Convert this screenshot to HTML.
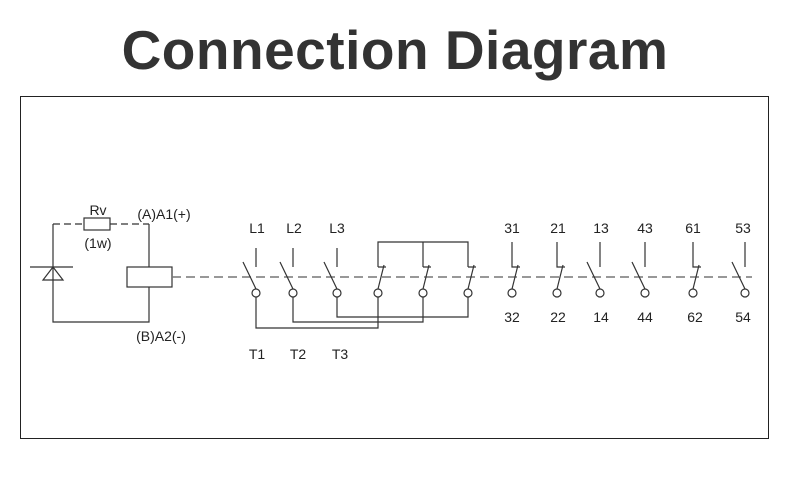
<!DOCTYPE html>
<html><head><style>
body{margin:0;background:#fff;width:790px;height:480px;overflow:hidden}
h1{position:absolute;left:0;top:0;width:790px;margin:0;text-align:center;font:bold 55px "Liberation Sans",sans-serif;color:#333;line-height:100px;letter-spacing:0.5px}
svg{position:absolute;left:0;top:0}
text{font-family:"Liberation Sans",sans-serif;font-size:14px;fill:#222}
</style></head><body>
<h1>Connection Diagram</h1>
<svg width="790" height="480" viewBox="0 0 790 480">
<rect x="20.5" y="96.5" width="748" height="342" fill="none" stroke="#222" stroke-width="1"/>
<g stroke="#333" stroke-width="1.2" fill="none">
<path d="M53 224 V322 H149 V224" />
<path d="M53 224 H84 M110 224 H149" stroke-dasharray="7,4"/>
<rect x="84" y="218" width="26" height="12" fill="#fff"/>
<path d="M30 267 H73 M53 267 L43 280 H63 Z"/>
<rect x="127" y="267" width="45" height="20" fill="#fff"/>
<path d="M172 277 H752" stroke="#777" stroke-width="1.6" stroke-dasharray="9,5"/>
<path d="M256 248V267 M293 248V267 M337 248V267"/>
<path d="M243 262L256 289 M280 262L293 289 M324 262L337 289"/>
<path d="M378 267V242H468V267 M423 242V267"/>
<path d="M378 267H386 M423 267H431 M468 267H476"/>
<path d="M378 289L384 265 M423 289L429 265 M468 289L474 265"/>
<path d="M256 297V328H378V297 M293 297V322H423V297 M337 297V317H468V297"/>
<path d="M512 242V267H520 M512 289L518 265"/>
<path d="M557 242V267H565 M557 289L563 265"/>
<path d="M693 242V267H701 M693 289L699 265"/>
<path d="M600 242V267 M587 262L600 289"/>
<path d="M645 242V267 M632 262L645 289"/>
<path d="M745 242V267 M732 262L745 289"/>
<g fill="#fff">
<circle cx="256" cy="293" r="4"/><circle cx="293" cy="293" r="4"/><circle cx="337" cy="293" r="4"/>
<circle cx="378" cy="293" r="4"/><circle cx="423" cy="293" r="4"/><circle cx="468" cy="293" r="4"/>
<circle cx="512" cy="293" r="4"/><circle cx="557" cy="293" r="4"/><circle cx="600" cy="293" r="4"/>
<circle cx="645" cy="293" r="4"/><circle cx="693" cy="293" r="4"/><circle cx="745" cy="293" r="4"/>
</g>
</g>
<g text-anchor="middle">
<text x="98" y="215" font-size="12">Rv</text>
<text x="98" y="248" font-size="12">(1w)</text>
<text x="164" y="219" font-size="13">(A)A1(+)</text>
<text x="161" y="341" font-size="13">(B)A2(-)</text>
<text x="257" y="233">L1</text><text x="294" y="233">L2</text><text x="337" y="233">L3</text>
<text x="257" y="359">T1</text><text x="298" y="359">T2</text><text x="340" y="359">T3</text>
<text x="512" y="233">31</text><text x="558" y="233">21</text><text x="601" y="233">13</text>
<text x="645" y="233">43</text><text x="693" y="233">61</text><text x="743" y="233">53</text>
<text x="512" y="322">32</text><text x="558" y="322">22</text><text x="601" y="322">14</text>
<text x="645" y="322">44</text><text x="695" y="322">62</text><text x="743" y="322">54</text>
</g>
</svg>
</body></html>
